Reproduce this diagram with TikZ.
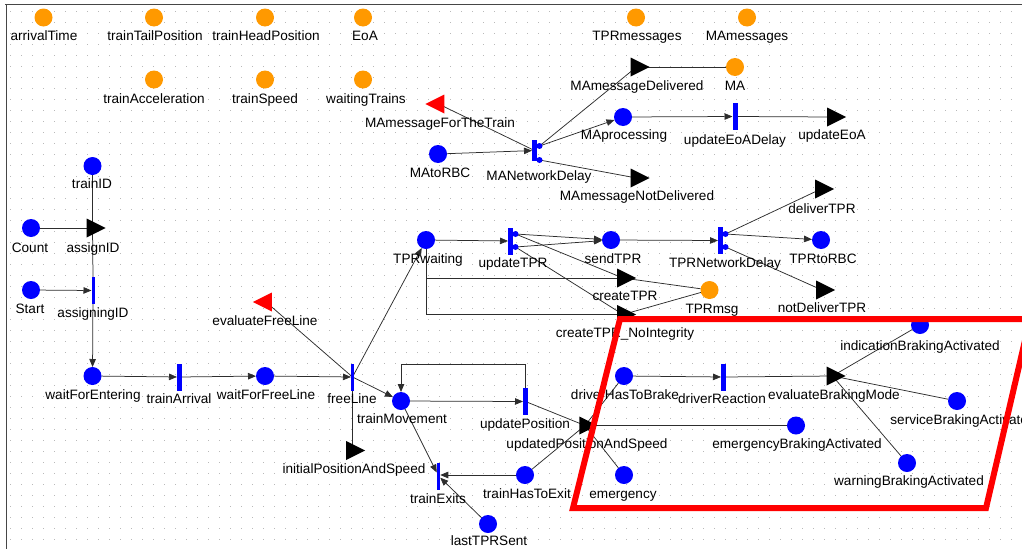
\documentclass[tikz,border=0pt]{standalone}
\usepackage{fontspec}
\setmainfont{Liberation Sans}
\usetikzlibrary{shapes.geometric,arrows.meta}
\definecolor{pnorange}{RGB}{255,153,0}
\definecolor{pnblue}{RGB}{0,0,255}
\definecolor{pnred}{RGB}{255,0,0}
\definecolor{gridgray}{RGB}{185,185,185}
\definecolor{edgegray}{RGB}{45,45,45}
\definecolor{framegray}{RGB}{70,70,70}
\pgfdeclarelayer{bg}
\pgfdeclarelayer{fg}
\pgfsetlayers{bg,main,fg}
\begin{document}
\begin{tikzpicture}[x=1pt,y=-1pt,
  every node/.style={inner sep=0pt,outer sep=0pt},
  oplace/.style={circle,fill=pnorange,minimum size=18pt},
  bplace/.style={circle,fill=pnblue,minimum size=18pt},
  tbar/.style={rectangle,fill=pnblue,minimum width=5pt,minimum height=27pt},
  thinbar/.style={rectangle,fill=pnblue,minimum width=3pt,minimum height=27pt},
  port/.style={circle,fill=pnblue,minimum size=6pt},
  btri/.style={isosceles triangle,isosceles triangle stretches,fill=black,minimum width=19pt,minimum height=19pt},
  rtri/.style={btri,fill=pnred,shape border rotate=180},
  lab/.style={anchor=base,font=\fontsize{13.6}{16}\selectfont},
  conn/.style={draw=edgegray,line width=0.75pt},
  arr/.style={conn,-{Triangle[length=8pt,width=6.5pt]}},
]
\useasboundingbox (0,0) rectangle (1022,549);

% ---------- orange places ----------
\node[oplace] (arrivalTime) at (43.5,17.5) {};
\node[lab] (l-arrivalTime) at (44,40) {arrivalTime};
\node[oplace] (trainTailPosition) at (154,17.5) {};
\node[lab] (l-trainTailPosition) at (155,40) {trainTailPosition};
\node[oplace] (trainHeadPosition) at (265,17.5) {};
\node[lab] (l-trainHeadPosition) at (266,40) {trainHeadPosition};
\node[oplace] (EoA) at (363,17.5) {};
\node[lab] (l-EoA) at (365,40) {EoA};
\node[oplace] (TPRmessages) at (636,17.5) {};
\node[lab] (l-TPRmessages) at (637,40) {TPRmessages};
\node[oplace] (MAmessages) at (747,17.5) {};
\node[lab] (l-MAmessages) at (747,40) {MAmessages};
\node[oplace] (trainAcceleration) at (154,79.5) {};
\node[lab] (l-trainAcceleration) at (154,103) {trainAcceleration};
\node[oplace] (trainSpeed) at (265,79.5) {};
\node[lab] (l-trainSpeed) at (265,103) {trainSpeed};
\node[oplace] (waitingTrains) at (363,79.5) {};
\node[lab] (l-waitingTrains) at (366,103) {waitingTrains};
\node[oplace] (MA) at (735,67) {};
\node[lab] (l-MA) at (735,90) {MA};
\node[oplace] (TPRmsg) at (709.5,290) {};
\node[lab] (l-TPRmsg) at (712,313) {TPRmsg};

% ---------- blue places ----------
\node[bplace] (trainID) at (92.5,166) {};
\node[lab] (l-trainID) at (92,188) {trainID};
\node[bplace] (Count) at (31,228) {};
\node[lab] (l-Count) at (30,252) {Count};
\node[bplace] (Start) at (31,290) {};
\node[lab] (l-Start) at (30,313) {Start};
\node[bplace] (waitForEntering) at (92.5,376) {};
\node[lab] (l-waitForEntering) at (93,399) {waitForEntering};
\node[bplace] (waitForFreeLine) at (265,376) {};
\node[lab] (l-waitForFreeLine) at (266,399) {waitForFreeLine};
\node[bplace] (trainMovement) at (401,401) {};
\node[lab] (l-trainMovement) at (402,423) {trainMovement};
\node[bplace] (MAtoRBC) at (438,154) {};
\node[lab] (l-MAtoRBC) at (440,177) {MAtoRBC};
\node[bplace] (MAprocessing) at (623,117) {};
\node[lab] (l-MAprocessing) at (624,139) {MAprocessing};
\node[bplace] (TPRwaiting) at (426,240) {};
\node[lab] (l-TPRwaiting) at (428,263) {TPRwaiting};
\node[bplace] (sendTPR) at (611,240) {};
\node[lab] (l-sendTPR) at (613,263) {sendTPR};
\node[bplace] (TPRtoRBC) at (821,240) {};
\node[lab] (l-TPRtoRBC) at (823,263) {TPRtoRBC};
\node[bplace] (driverHasToBrake) at (624,376) {};
\node[lab] (l-driverHasToBrake) at (625,399) {driverHasToBrake};
\node[bplace] (emergencyBrakingActivated) at (796,425.5) {};
\node[lab] (l-emergencyBrakingActivated) at (797,448) {emergencyBrakingActivated};
\node[bplace] (emergency) at (624,475) {};
\node[lab] (l-emergency) at (623,498) {emergency};
\node[bplace] (trainHasToExit) at (525,475) {};
\node[lab] (l-trainHasToExit) at (527,498) {trainHasToExit};
\node[bplace] (lastTPRSent) at (488,524) {};
\node[lab] (l-lastTPRSent) at (489,545) {lastTPRSent};
\node[bplace] (indicationBrakingActivated) at (920,325) {};
\node[lab] (l-indicationBrakingActivated) at (920,350) {indicationBrakingActivated};
\node[bplace] (serviceBrakingActivated) at (957,401) {};
\node[lab] (l-serviceBrakingActivated) at (963,424) {serviceBrakingActivated};
\node[bplace] (warningBrakingActivated) at (907,463) {};
\node[lab] (l-warningBrakingActivated) at (909,485) {warningBrakingActivated};

% ---------- timed transitions (bars) ----------
\node[thinbar] (assigningID) at (93,290.5) {};
\node[lab] (l-assigningID) at (93,317) {assigningID};
\node[tbar] (trainArrival) at (179.5,377) {};
\node[lab] (l-trainArrival) at (179,403) {trainArrival};
\node[thinbar] (freeLine) at (352.5,377) {};
\node[lab] (l-freeLine) at (352,403) {freeLine};
\node[tbar] (updatePosition) at (525.5,401.5) {};
\node[lab] (l-updatePosition) at (525,428) {updatePosition};
\node[thinbar,minimum width=3.5pt] (trainExits) at (438.5,476) {};
\node[lab] (l-trainExits) at (438,503) {trainExits};
\node[tbar] (updateTPR) at (510.5,241) {};
\node[lab] (l-updateTPR) at (513,267) {updateTPR};
\node[tbar] (TPRNetworkDelay) at (720.5,240.5) {};
\node[lab] (l-TPRNetworkDelay) at (725,267) {TPRNetworkDelay};
\node[tbar,minimum height=21pt] (MANetworkDelay) at (534.5,150.5) {};
\node[lab] (l-MANetworkDelay) at (539,180) {MANetworkDelay};
\node[tbar] (updateEoADelay) at (735,116.5) {};
\node[lab] (l-updateEoADelay) at (735,144) {updateEoADelay};
\node[tbar] (driverReaction) at (723.5,377) {};
\node[lab] (l-driverReaction) at (722,403) {driverReaction};

% ports
\node[port] (mnd1) at (539.5,146) {};
\node[port] (mnd2) at (539.5,160) {};
\node[port] (utpr1) at (515.5,234) {};
\node[port] (utpr2) at (515.5,247) {};
\node[port] (tnd1) at (725.5,234) {};
\node[port] (tnd2) at (725.5,247) {};

% ---------- black triangles ----------
\node[btri] (assignID) at (92.5,228) {};
\node[lab] (l-assignID) at (93,252) {assignID};
\node[btri] (MAmessageDelivered) at (636.5,67) {};
\node[lab] (l-MAmessageDelivered) at (637,90) {MAmessageDelivered};
\node[btri] (MAmessageNotDelivered) at (636.5,178) {};
\node[lab] (l-MAmessageNotDelivered) at (637,200) {MAmessageNotDelivered};
\node[btri] (updateEoA) at (833,117) {};
\node[lab] (l-updateEoA) at (832,139) {updateEoA};
\node[btri] (deliverTPR) at (821,189) {};
\node[lab] (l-deliverTPR) at (822,213) {deliverTPR};
\node[btri] (notDeliverTPR) at (822,290) {};
\node[lab] (l-notDeliverTPR) at (822,312) {notDeliverTPR};
\node[btri] (createTPR) at (623,278) {};
\node[lab] (l-createTPR) at (625,300) {createTPR};
\node[btri] (createTPRNI) at (623,314.5) {};
\node[lab] (l-createTPRNI) at (625,337) {createTPR\_NoIntegrity};
\node[btri] (initialPositionAndSpeed) at (352,450.5) {};
\node[lab] (l-initialPositionAndSpeed) at (354,473) {initialPositionAndSpeed};
\node[btri,minimum width=18pt,minimum height=18pt] (updatedPositionAndSpeed) at (585,425.5) {};
\node[lab] (l-updatedPositionAndSpeed) at (587,448) {updatedPositionAndSpeed};
\node[btri] (evaluateBrakingMode) at (832.5,376) {};
\node[lab] (l-evaluateBrakingMode) at (834,399) {evaluateBrakingMode};

% ---------- red triangles ----------
\node[rtri] (MAmessageForTheTrain) at (438.5,104) {};
\node[lab] (l-MAmessageForTheTrain) at (440,127) {MAmessageForTheTrain};
\node[rtri] (evaluateFreeLine) at (266,302) {};
\node[lab] (l-evaluateFreeLine) at (265,325) {evaluateFreeLine};

% ---------- background: grid, frame, connectors ----------
\begin{pgfonlayer}{bg}
\foreach \gy in {11,22,...,549}
  \draw[gridgray,line width=1pt,dash pattern=on 1pt off 10pt] (10,\gy) -- (1022,\gy);
\draw[framegray,line width=1.3pt] (5,4.3) -- (1022,4.3);
\draw[framegray,line width=1.3pt] (6.7,4) -- (6.7,549);

% ID assignment
\draw[conn] (trainID) -- (assignID.center);
\draw[conn] (assignID.center) -- (assigningID.north);
\draw[conn] (Count) -- (assignID.center);
\draw[arr] (Start) -- (assigningID);
\draw[arr] (assigningID) -- (waitForEntering);
% entering
\draw[arr] (waitForEntering) -- (trainArrival);
\draw[arr] (trainArrival) -- (waitForFreeLine);
\draw[arr] (waitForFreeLine) -- (freeLine);
\draw[conn] (evaluateFreeLine.center) -- (freeLine.center);
\draw[arr] (freeLine.center) -- (trainMovement);
\draw[arr] (freeLine.center) -- (TPRwaiting);
\draw[conn] (freeLine.center) -- (freeLine.center |- initialPositionAndSpeed.center);
% movement
\draw[arr] (trainMovement) -- (updatePosition);
\draw[arr] (updatePosition.north) -- ++(0,-24) -| (trainMovement.north);
\draw[conn] (updatePosition) -- (updatedPositionAndSpeed.center);
\draw[arr] (trainMovement) -- (trainExits);
\draw[arr] (trainHasToExit) -- (trainExits.east |- trainHasToExit);
\draw[arr] (lastTPRSent) -- (trainExits);
\draw[conn] (updatedPositionAndSpeed.center) -- (trainHasToExit);
\draw[conn] (updatedPositionAndSpeed.center) -- (driverHasToBrake);
\draw[conn] (updatedPositionAndSpeed.center) -- (emergency);
\draw[conn] (updatedPositionAndSpeed.center) -- (emergencyBrakingActivated);
% braking
\draw[arr] (driverHasToBrake) -- (driverReaction);
\draw[conn] (driverReaction) -- (evaluateBrakingMode.center);
\draw[conn] (evaluateBrakingMode.center) -- (indicationBrakingActivated);
\draw[conn] (evaluateBrakingMode.center) -- (serviceBrakingActivated);
\draw[conn] (evaluateBrakingMode.center) -- (warningBrakingActivated);
% TPR
\draw[arr] (TPRwaiting) -- (updateTPR);
\draw[arr] (utpr1.center) -- (sendTPR);
\draw[arr] (utpr2.center) -- (sendTPR);
\draw[conn] (utpr1.center) -- (createTPR.center);
\draw[conn] (utpr2.center) -- (createTPRNI.center);
\draw[conn] (TPRwaiting.center) |- (createTPR.center);
\draw[conn] (TPRwaiting.center) |- (createTPRNI.center);
\draw[conn] (createTPR.center) -- (TPRmsg);
\draw[conn] (createTPRNI.center) -- (TPRmsg);
\draw[arr] (sendTPR) -- (TPRNetworkDelay);
\draw[conn] (tnd1.center) -- (deliverTPR.center);
\draw[arr] (tnd1.center) -- (TPRtoRBC);
\draw[conn] (tnd2.center) -- (notDeliverTPR.center);
% MA
\draw[arr] (MAtoRBC) -- (MANetworkDelay);
\draw[conn] (MAmessageForTheTrain.center) -- (MANetworkDelay.center);
\draw[conn] (mnd1.center) -- (MAmessageDelivered.center);
\draw[arr] (mnd1.center) -- (MAprocessing);
\draw[conn] (mnd2.center) -- (MAmessageNotDelivered.center);
\draw[conn] (MAmessageDelivered.center) -- (MA);
\draw[arr] (MAprocessing) -- (updateEoADelay);
\draw[conn] (updateEoADelay) -- (updateEoA.center);
\end{pgfonlayer}

% ---------- red highlight ----------
\begin{pgfonlayer}{fg}
\draw[pnred,line width=6pt,line join=miter] (620,319) -- (1030,319) -- (986,508) -- (573,508) -- cycle;
\end{pgfonlayer}
\end{tikzpicture}
\end{document}
